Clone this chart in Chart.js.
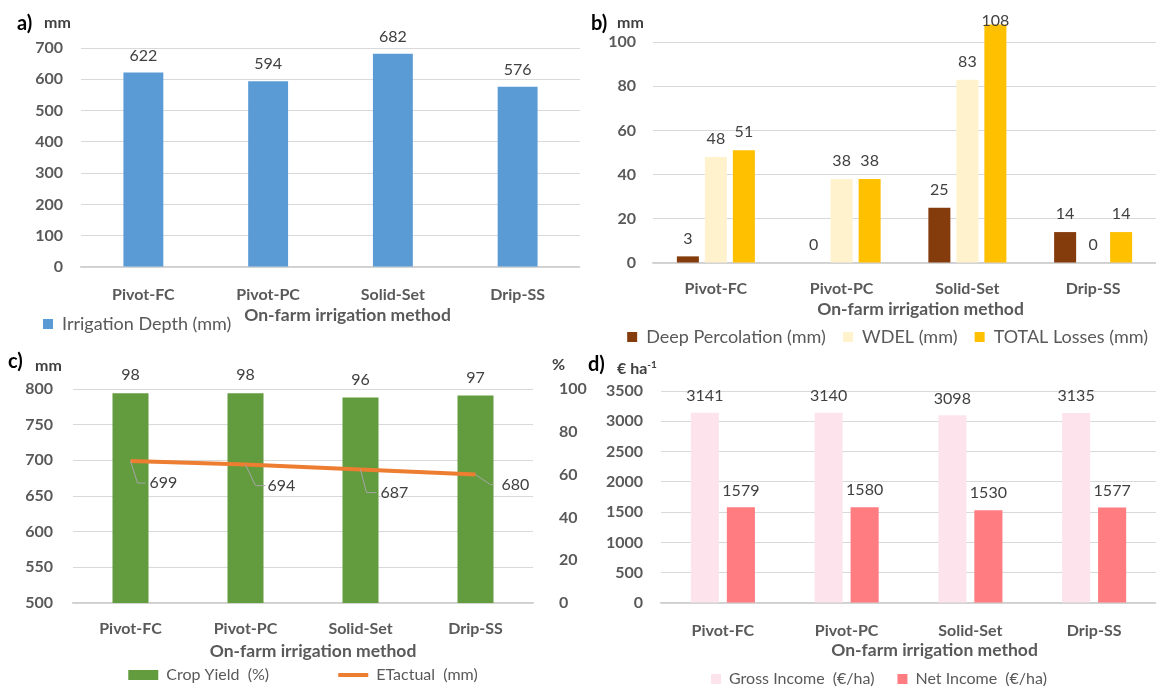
<!DOCTYPE html>
<html>
<head>
<meta charset="utf-8">
<script src="https://cdn.jsdelivr.net/npm/chart.js@4.4.1/dist/chart.umd.min.js"></script>
<style>
  body { margin: 0; width: 1156px; height: 688px; overflow: hidden; background: #fff; position: relative; font-family: Lato, sans-serif; }
  canvas { position: absolute; }
  .tag { position: absolute; font-weight: bold; font-size: 20px; line-height: 20px; color: #000; }
  .unit { position: absolute; font-weight: bold; font-size: 16px; line-height: 16px; color: #404040; }
</style>
</head>
<body>
<canvas id="chartA" width="580" height="343" style="left:0;top:0"></canvas>
<canvas id="chartB" width="576" height="356" style="left:580px;top:0"></canvas>
<canvas id="chartC" width="590" height="353" style="left:0;top:340px"></canvas>
<canvas id="chartD" width="576" height="357" style="left:580px;top:340px"></canvas>

<div class="tag" style="left:17px;top:12px">a)</div>
<div class="unit" style="left:44px;top:14px">mm</div>
<div class="tag" style="left:591px;top:12px">b)</div>
<div class="unit" style="left:617px;top:14px">mm</div>
<div class="tag" style="left:8px;top:350px">c)</div>
<div class="unit" style="left:35px;top:357px">mm</div>
<div class="unit" style="left:552px;top:356px">%</div>
<div class="tag" style="left:588px;top:353px">d)</div>
<div class="unit" style="left:617px;top:356px">€ ha<sup style="font-size:10px">-1</sup></div>

<script>
// categories and values
const categories = ['Pivot-FC', 'Pivot-PC', 'Solid-Set', 'Drip-SS'];
const irrigationDepth = [622, 594, 682, 576];
const deepPercolation = [3, 0, 25, 14];
const wdel = [48, 38, 83, 0];
const totalLosses = [51, 38, 108, 14];
const cropYield = [98, 98, 96, 97];
const etActual = [699, 694, 687, 680];
const grossIncome = [3141, 3140, 3098, 3135];
const netIncome = [1579, 1580, 1530, 1577];

const axisTitle = 'On-farm irrigation method';
const nb = n => '\u00A0'.repeat(n); // extra room between legend items

Chart.defaults.font.family = 'Lato, sans-serif';
Chart.defaults.font.size = 16;
Chart.defaults.color = '#595959';
Chart.defaults.animation = false;

// value labels above each bar
const valueLabels = {
  id: 'valueLabels',
  afterDatasetsDraw(chart, args, opts) {
    const ctx = chart.ctx;
    ctx.save();
    ctx.font = '16px Lato, sans-serif';
    ctx.fillStyle = '#404040';
    ctx.textAlign = 'center';
    ctx.textBaseline = 'middle';
    chart.data.datasets.forEach((ds, i) => {
      const meta = chart.getDatasetMeta(i);
      if (meta.type !== 'bar') return;
      meta.data.forEach((bar, j) => {
        const y = Math.max(bar.y - (opts.gap || 17), opts.minY || 0);
        ctx.fillText(ds.data[j], bar.x, y);
      });
    });
    ctx.restore();
  }
};

// labels with leader lines for the ETactual line
const callouts = {
  id: 'callouts',
  afterDatasetsDraw(chart, args, opts) {
    if (!opts.offsets) return;
    const ctx = chart.ctx;
    const meta = chart.getDatasetMeta(opts.dataset);
    const values = chart.data.datasets[opts.dataset].data;
    ctx.save();
    ctx.font = '16px Lato, sans-serif';
    ctx.textAlign = 'left';
    ctx.textBaseline = 'middle';
    meta.data.forEach((pt, j) => {
      const [cx, cy, ex, tx] = opts.offsets[j];
      ctx.strokeStyle = '#A6A6A6';
      ctx.lineWidth = 1;
      ctx.beginPath();
      ctx.moveTo(pt.x, pt.y);
      ctx.lineTo(pt.x + cx, pt.y + cy);
      ctx.lineTo(pt.x + ex, pt.y + cy);
      ctx.stroke();
      ctx.fillStyle = '#404040';
      ctx.fillText(values[j], pt.x + tx, pt.y + cy);
    });
    ctx.restore();
  }
};

// x axis caption, placed like the original (a little right of the plot centre)
const axisCaption = {
  id: 'axisCaption',
  afterDraw(chart, args, opts) {
    const area = chart.chartArea;
    const ctx = chart.ctx;
    ctx.save();
    ctx.font = 'bold 17.5px Lato, sans-serif';
    ctx.fillStyle = '#595959';
    ctx.textAlign = 'center';
    ctx.textBaseline = 'middle';
    ctx.fillText(axisTitle, (area.left + area.right) / 2 + opts.dx, area.bottom + opts.dy);
    ctx.restore();
  }
};

function xAxis(tickPad, height) {
  return {
    grid: { display: false, drawTicks: false },
    border: { color: '#D0D0D0', width: 1.5 },
    ticks: { font: { weight: 'bold' }, padding: tickPad, color: '#595959' },
    afterFit: s => { s.height = height; }
  };
}

function yAxis(min, max, step, width, tickPad, extra) {
  return Object.assign({
    min: min, max: max,
    grid: { color: '#D9D9D9', drawTicks: false },
    border: { display: false },
    ticks: { stepSize: step, font: { weight: 'bold' }, padding: tickPad, color: '#595959', callback: v => (v % step === 0 ? v : null) },
    afterFit: s => { s.width = width; s.paddingTop = 0; }
  }, extra || {});
}

function legendOpts(pad, align, size, extra) {
  return {
    position: 'bottom',
    align: align,
    labels: Object.assign({ boxWidth: 10, boxHeight: 10, padding: pad, color: '#595959', font: { size: size } }, extra || {})
  };
}

// a) irrigation depth
new Chart(document.getElementById('chartA'), {
  type: 'bar',
  data: {
    labels: categories,
    datasets: [{ label: 'Irrigation Depth (mm)', data: irrigationDepth, backgroundColor: '#5B9BD5', barPercentage: 0.32, categoryPercentage: 1 }]
  },
  options: {
    responsive: false,
    devicePixelRatio: 1,
    layout: { padding: { top: 48, left: 33, right: 0, bottom: 0 } },
    scales: {
      x: xAxis(18, 38),
      y: yAxis(0, 700, 100, 48, 18)
    },
    plugins: {
      legend: legendOpts(10, 'start', 18),
      tooltip: { enabled: false },
      valueLabels: { gap: 17 },
      axisCaption: { dx: 17, dy: 48 }
    }
  },
  plugins: [valueLabels, axisCaption]
});

// b) losses
new Chart(document.getElementById('chartB'), {
  type: 'bar',
  data: {
    labels: categories,
    datasets: [
      { label: 'Deep Percolation (mm)' + nb(2), data: deepPercolation, backgroundColor: '#843C0C' },
      { label: 'WDEL (mm)' + nb(2), data: wdel, backgroundColor: '#FFF2CC' },
      { label: 'TOTAL Losses (mm)', data: totalLosses, backgroundColor: '#FFC000' }
    ]
  },
  options: {
    responsive: false,
    devicePixelRatio: 1,
    datasets: { bar: { categoryPercentage: 0.668, barPercentage: 0.786 } },
    layout: { padding: { top: 20, left: 27, right: 0, bottom: 0 } },
    scales: {
      x: xAxis(16, 57),
      y: yAxis(0, 110, 20, 46, 17)
    },
    plugins: {
      legend: legendOpts(8, 'end', 18),
      tooltip: { enabled: false },
      valueLabels: { gap: 18, minY: 21 },
      axisCaption: { dx: 16, dy: 46 }
    }
  },
  plugins: [valueLabels, axisCaption]
});

// c) crop yield and ETactual
new Chart(document.getElementById('chartC'), {
  type: 'bar',
  data: {
    labels: categories,
    datasets: [
      { type: 'bar', label: 'Crop Yield  (%)' + nb(12), data: cropYield, backgroundColor: '#639B3F', yAxisID: 'y1', order: 2,
        barPercentage: 0.313, categoryPercentage: 1, pointStyle: 'rect' },
      { type: 'line', label: 'ETactual  (mm)', data: etActual, borderColor: '#ED7D31', backgroundColor: '#ED7D31',
        borderWidth: 4, pointRadius: 0, yAxisID: 'y', order: 1, pointStyle: 'line' }
    ]
  },
  options: {
    responsive: false,
    devicePixelRatio: 1,
    layout: { padding: { top: 49, left: 19, right: 3, bottom: 0 } },
    scales: {
      x: xAxis(16, 44),
      y: yAxis(500, 800, 50, 54, 20),
      y1: yAxis(0, 100, 20, 54, 18, { position: 'right', grid: { display: false } })
    },
    plugins: {
      legend: legendOpts(20, 'center', 16, {
        usePointStyle: true, pointStyleWidth: 30, boxHeight: 10,
        sort: (a, b) => a.datasetIndex - b.datasetIndex
      }),
      tooltip: { enabled: false },
      valueLabels: { gap: 18 },
      callouts: { dataset: 1, offsets: [[7, 22, 15, 19], [10, 21, 20, 22], [6, 23, 16, 20], [15, 10, 18, 26]] },
      axisCaption: { dx: 10, dy: 48 }
    }
  },
  plugins: [valueLabels, callouts, axisCaption]
});

// d) income
new Chart(document.getElementById('chartD'), {
  type: 'bar',
  data: {
    labels: categories,
    datasets: [
      { label: 'Gross Income  (€/ha)', data: grossIncome, backgroundColor: '#FDE4EC' },
      { label: 'Net Income  (€/ha)', data: netIncome, backgroundColor: '#FF7C80' }
    ]
  },
  options: {
    responsive: false,
    devicePixelRatio: 1,
    datasets: { bar: { categoryPercentage: 0.582, barPercentage: 0.78 } },
    layout: { padding: { top: 51, left: 22, right: 0, bottom: 0 } },
    scales: {
      x: xAxis(18, 45),
      y: yAxis(0, 3500, 500, 59, 18)
    },
    plugins: {
      legend: legendOpts(23, 'center', 16),
      tooltip: { enabled: false },
      valueLabels: { gap: 17 },
      axisCaption: { dx: 26, dy: 47 }
    }
  },
  plugins: [valueLabels, axisCaption]
});
</script>
</body>
</html>
